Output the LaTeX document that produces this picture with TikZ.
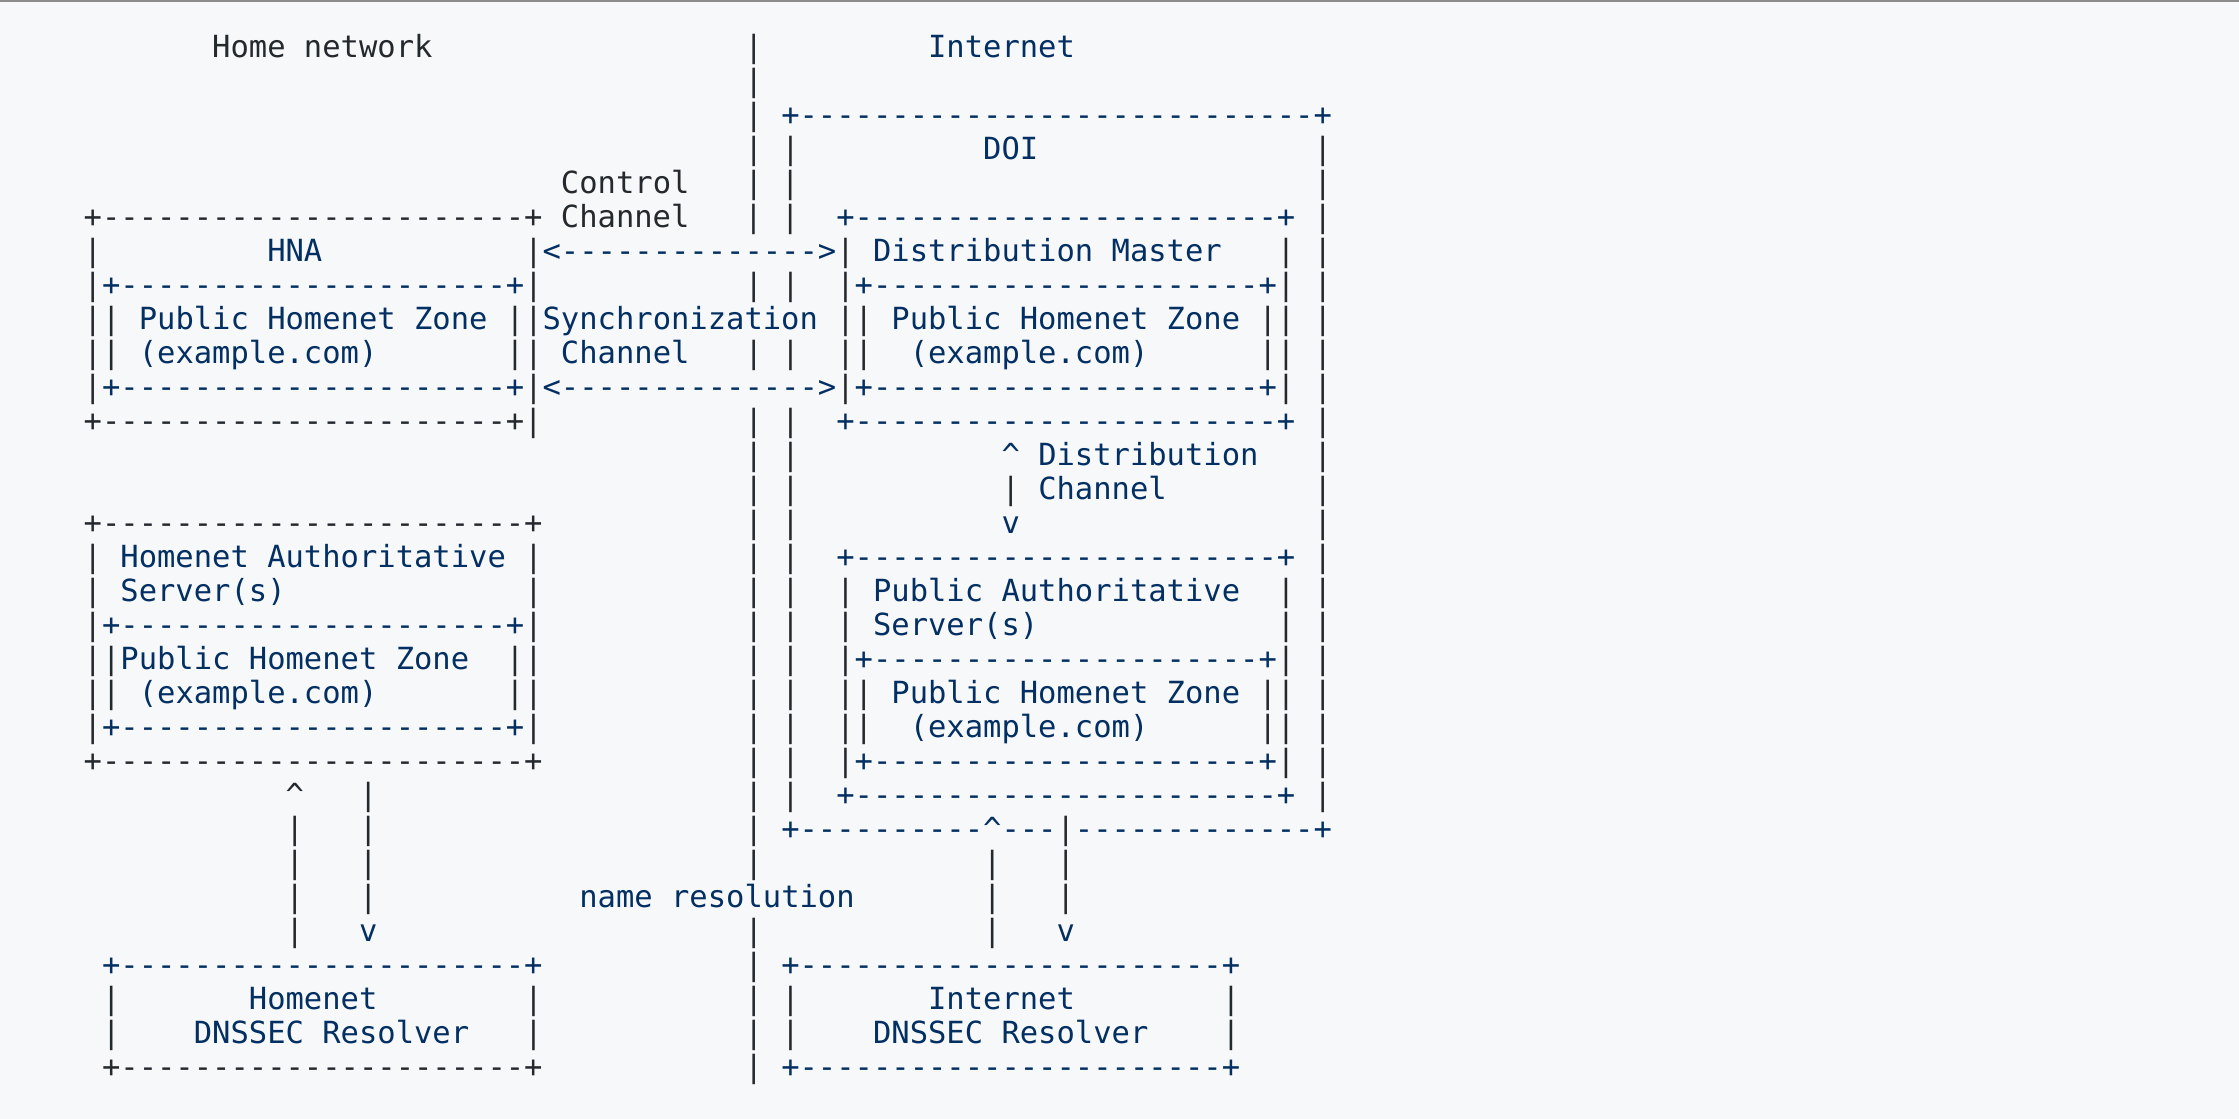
\documentclass[tikz,border=0pt]{standalone}
\usepackage{fontspec}
\setmonofont{DejaVu Sans Mono}
\definecolor{cgray}{HTML}{24292E}
\definecolor{cblue}{HTML}{032F62}
\definecolor{cbg}{HTML}{F6F8FA}
\definecolor{ctop}{HTML}{8C8C8C}
\newcommand\rep[2]{\ifnum#1>0 #2\expandafter\rep\expandafter{\the\numexpr#1-1\relax}{#2}\fi}
\newcommand\sps[1]{\rep{#1}{\ }}
\newcommand\dsh[1]{\rep{#1}{-}}
\newcommand\bl[1]{\textcolor{cblue}{#1}}
\newcommand\crt{\textasciicircum}
\tikzset{
  asciirow/.style={anchor=base west, inner sep=0pt, outer sep=0pt, text=cgray,
    font=\ttfamily\frenchspacing\fontsize{30.49pt}{34pt}\selectfont}
}
\newcommand\rowat[2]{\node[asciirow] (row#1) at (83.72pt,{-57.3pt-34pt*#1}) {#2};}
\begin{document}
\begin{tikzpicture}[x=1pt,y=1pt]
\fill[cbg] (0,0) rectangle (2239,-1119);
\fill[ctop] (0,0) rectangle (2239,-1.5);
\path[use as bounding box] (0,0) rectangle (2239,-1119);
\rowat{0}{\sps{7}Home network\sps{17}|\sps{9}\bl{Internet}}
\rowat{1}{\sps{36}|}
\rowat{2}{\sps{36}|\sps{1}\bl{+\dsh{28}+}}
\rowat{3}{\sps{36}|\sps{1}|\sps{10}\bl{DOI}\sps{15}|}
\rowat{4}{\sps{26}Control\sps{3}|\sps{1}|\sps{28}|}
\rowat{5}{+\dsh{23}+\sps{1}Channel\sps{3}|\sps{1}|\sps{2}\bl{+\dsh{23}+}\sps{1}|}
\rowat{6}{|\sps{9}\bl{HNA}\sps{11}|\bl{<\dsh{14}>}|\sps{1}\bl{Distribution Master}\sps{3}|\sps{1}|}
\rowat{7}{|\bl{+\dsh{21}+}|\sps{11}|\sps{1}|\sps{2}|\bl{+\dsh{21}+}|\sps{1}|}
\rowat{8}{||\sps{1}\bl{Public Homenet Zone}\sps{1}||\bl{Synchronization}\sps{1}||\sps{1}\bl{Public Homenet Zone}\sps{1}||\sps{1}|}
\rowat{9}{||\sps{1}\bl{(example.com)}\sps{7}||\sps{1}\bl{Channel}\sps{3}|\sps{1}|\sps{2}||\sps{2}\bl{(example.com)}\sps{6}||\sps{1}|}
\rowat{10}{|\bl{+\dsh{21}+}|\bl{<\dsh{14}>}|\bl{+\dsh{21}+}|\sps{1}|}
\rowat{11}{+\dsh{22}+|\sps{11}|\sps{1}|\sps{2}\bl{+\dsh{23}+}\sps{1}|}
\rowat{12}{\sps{36}|\sps{1}|\sps{11}\bl{\crt{} Distribution}\sps{3}|}
\rowat{13}{\sps{36}|\sps{1}|\sps{11}|\sps{1}\bl{Channel}\sps{8}|}
\rowat{14}{+\dsh{23}+\sps{11}|\sps{1}|\sps{11}\bl{v}\sps{16}|}
\rowat{15}{|\sps{1}\bl{Homenet Authoritative}\sps{1}|\sps{11}|\sps{1}|\sps{2}\bl{+\dsh{23}+}\sps{1}|}
\rowat{16}{|\sps{1}\bl{Server(s)}\sps{13}|\sps{11}|\sps{1}|\sps{2}|\sps{1}\bl{Public Authoritative}\sps{2}|\sps{1}|}
\rowat{17}{|\bl{+\dsh{21}+}|\sps{11}|\sps{1}|\sps{2}|\sps{1}\bl{Server(s)}\sps{13}|\sps{1}|}
\rowat{18}{||\bl{Public Homenet Zone}\sps{2}||\sps{11}|\sps{1}|\sps{2}|\bl{+\dsh{21}+}|\sps{1}|}
\rowat{19}{||\sps{1}\bl{(example.com)}\sps{7}||\sps{11}|\sps{1}|\sps{2}||\sps{1}\bl{Public Homenet Zone}\sps{1}||\sps{1}|}
\rowat{20}{|\bl{+\dsh{21}+}|\sps{11}|\sps{1}|\sps{2}||\sps{2}\bl{(example.com)}\sps{6}||\sps{1}|}
\rowat{21}{+\dsh{23}+\sps{11}|\sps{1}|\sps{2}|\bl{+\dsh{21}+}|\sps{1}|}
\rowat{22}{\sps{11}\crt\sps{3}|\sps{20}|\sps{1}|\sps{2}\bl{+\dsh{23}+}\sps{1}|}
\rowat{23}{\sps{11}|\sps{3}|\sps{20}|\sps{1}\bl{+\dsh{10}\crt\dsh{3}}|\bl{\dsh{13}+}}
\rowat{24}{\sps{11}|\sps{3}|\sps{20}|\sps{12}|\sps{3}|}
\rowat{25}{\sps{11}|\sps{3}|\sps{11}\bl{name resolution}\sps{7}|\sps{3}|}
\rowat{26}{\sps{11}|\sps{3}\bl{v}\sps{20}|\sps{12}|\sps{3}\bl{v}}
\rowat{27}{\sps{1}\bl{+\dsh{22}+}\sps{11}|\sps{1}\bl{+\dsh{23}+}}
\rowat{28}{\sps{1}|\sps{7}\bl{Homenet}\sps{8}|\sps{11}|\sps{1}|\sps{7}\bl{Internet}\sps{8}|}
\rowat{29}{\sps{1}|\sps{4}\bl{DNSSEC Resolver}\sps{3}|\sps{11}|\sps{1}|\sps{4}\bl{DNSSEC Resolver}\sps{4}|}
\rowat{30}{\sps{1}+\dsh{22}+\sps{11}|\sps{1}\bl{+\dsh{23}+}}
\end{tikzpicture}
\end{document}
